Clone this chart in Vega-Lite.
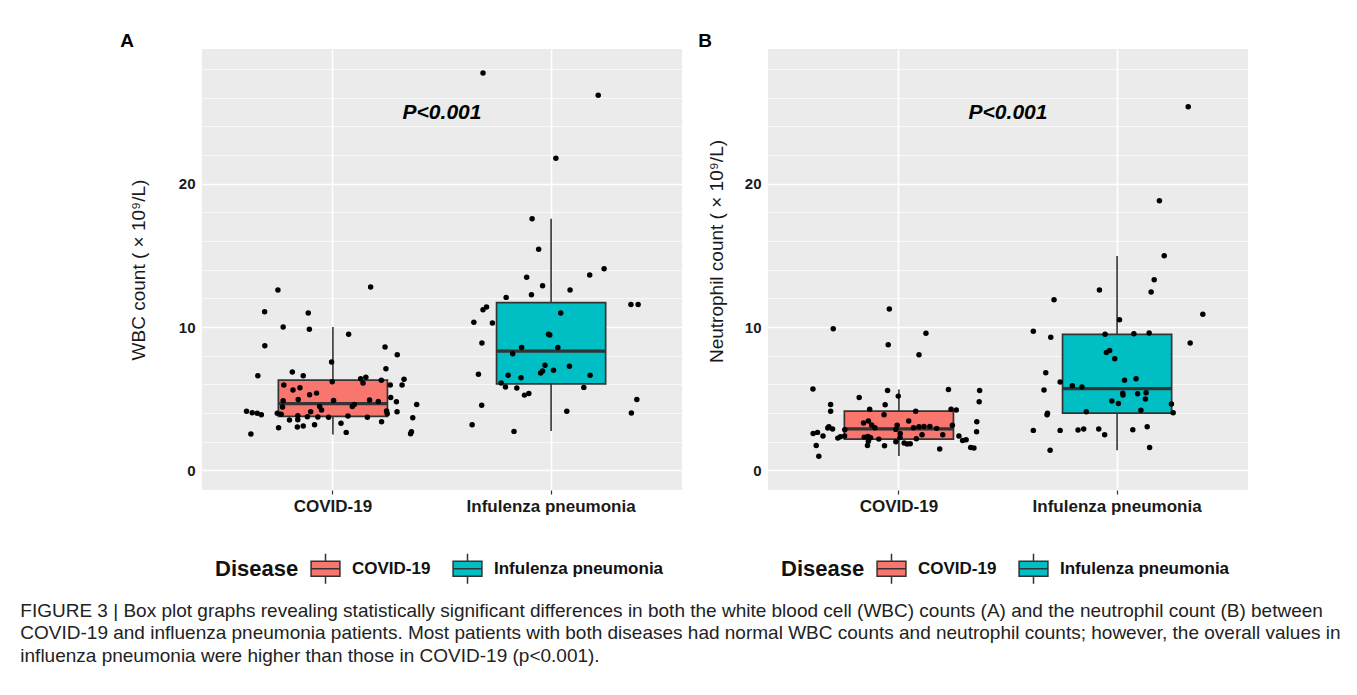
{
  "$schema": "https://vega.github.io/schema/vega-lite/v6.json",
  "background": "white",
  "padding": {"left": 20, "top": 32, "right": 0, "bottom": 0},
  "datasets": {
    "wbc_box": [
      {"Disease": "COVID-19", "lower": 2.51, "q1": 3.77, "median": 4.65, "q3": 6.30, "upper": 10.0},
      {"Disease": "Infulenza pneumonia", "lower": 2.74, "q1": 6.04, "median": 8.32, "q3": 11.70, "upper": 17.56}
    ],
    "neut_box": [
      {"Disease": "COVID-19", "lower": 1.00, "q1": 2.18, "median": 2.90, "q3": 4.14, "upper": 5.65},
      {"Disease": "Infulenza pneumonia", "lower": 1.40, "q1": 4.00, "median": 5.70, "q3": 9.49, "upper": 14.95}
    ],
    "wbc": [
      {"Disease": "COVID-19", "WBC": 12.58, "jitter": -0.252},
      {"Disease": "COVID-19", "WBC": 12.79, "jitter": 0.173},
      {"Disease": "COVID-19", "WBC": 11.07, "jitter": -0.313},
      {"Disease": "COVID-19", "WBC": 10.98, "jitter": -0.113},
      {"Disease": "COVID-19", "WBC": 10.00, "jitter": -0.228},
      {"Disease": "COVID-19", "WBC": 9.84, "jitter": -0.108},
      {"Disease": "COVID-19", "WBC": 9.49, "jitter": 0.072},
      {"Disease": "COVID-19", "WBC": 8.70, "jitter": -0.312},
      {"Disease": "COVID-19", "WBC": 8.60, "jitter": 0.239},
      {"Disease": "COVID-19", "WBC": 8.07, "jitter": 0.295},
      {"Disease": "COVID-19", "WBC": 7.56, "jitter": -0.006},
      {"Disease": "COVID-19", "WBC": 6.60, "jitter": -0.344},
      {"Disease": "COVID-19", "WBC": 7.09, "jitter": 0.243},
      {"Disease": "COVID-19", "WBC": 6.86, "jitter": -0.186},
      {"Disease": "COVID-19", "WBC": 6.60, "jitter": -0.136},
      {"Disease": "COVID-19", "WBC": 6.35, "jitter": 0.326},
      {"Disease": "COVID-19", "WBC": 5.95, "jitter": 0.317},
      {"Disease": "COVID-19", "WBC": 6.39, "jitter": 0.127},
      {"Disease": "COVID-19", "WBC": 6.49, "jitter": 0.151},
      {"Disease": "COVID-19", "WBC": 6.09, "jitter": 0.138},
      {"Disease": "COVID-19", "WBC": 6.28, "jitter": 0.222},
      {"Disease": "COVID-19", "WBC": 6.18, "jitter": -0.003},
      {"Disease": "COVID-19", "WBC": 5.95, "jitter": -0.225},
      {"Disease": "COVID-19", "WBC": 5.95, "jitter": 0.263},
      {"Disease": "COVID-19", "WBC": 5.60, "jitter": -0.183},
      {"Disease": "COVID-19", "WBC": 5.76, "jitter": -0.151},
      {"Disease": "COVID-19", "WBC": 5.28, "jitter": -0.107},
      {"Disease": "COVID-19", "WBC": 5.39, "jitter": -0.075},
      {"Disease": "COVID-19", "WBC": 5.09, "jitter": 0.265},
      {"Disease": "COVID-19", "WBC": 4.86, "jitter": -0.228},
      {"Disease": "COVID-19", "WBC": 4.95, "jitter": -0.159},
      {"Disease": "COVID-19", "WBC": 4.88, "jitter": 0.003},
      {"Disease": "COVID-19", "WBC": 4.91, "jitter": 0.168},
      {"Disease": "COVID-19", "WBC": 4.81, "jitter": 0.208},
      {"Disease": "COVID-19", "WBC": 4.79, "jitter": 0.291},
      {"Disease": "COVID-19", "WBC": 4.60, "jitter": 0.384},
      {"Disease": "COVID-19", "WBC": 4.60, "jitter": 0.098},
      {"Disease": "COVID-19", "WBC": 4.46, "jitter": 0.089},
      {"Disease": "COVID-19", "WBC": 4.42, "jitter": -0.231},
      {"Disease": "COVID-19", "WBC": 4.46, "jitter": -0.061},
      {"Disease": "COVID-19", "WBC": 4.21, "jitter": -0.052},
      {"Disease": "COVID-19", "WBC": 4.12, "jitter": -0.396},
      {"Disease": "COVID-19", "WBC": 4.02, "jitter": -0.370},
      {"Disease": "COVID-19", "WBC": 3.98, "jitter": -0.347},
      {"Disease": "COVID-19", "WBC": 3.88, "jitter": -0.328},
      {"Disease": "COVID-19", "WBC": 3.98, "jitter": -0.255},
      {"Disease": "COVID-19", "WBC": 3.91, "jitter": -0.237},
      {"Disease": "COVID-19", "WBC": 4.09, "jitter": -0.102},
      {"Disease": "COVID-19", "WBC": 3.74, "jitter": -0.117},
      {"Disease": "COVID-19", "WBC": 3.81, "jitter": -0.161},
      {"Disease": "COVID-19", "WBC": 3.51, "jitter": -0.199},
      {"Disease": "COVID-19", "WBC": 3.53, "jitter": -0.161},
      {"Disease": "COVID-19", "WBC": 3.72, "jitter": -0.069},
      {"Disease": "COVID-19", "WBC": 3.70, "jitter": -0.020},
      {"Disease": "COVID-19", "WBC": 3.79, "jitter": 0.069},
      {"Disease": "COVID-19", "WBC": 3.70, "jitter": 0.158},
      {"Disease": "COVID-19", "WBC": 4.14, "jitter": 0.246},
      {"Disease": "COVID-19", "WBC": 3.95, "jitter": 0.249},
      {"Disease": "COVID-19", "WBC": 4.09, "jitter": 0.294},
      {"Disease": "COVID-19", "WBC": 3.39, "jitter": 0.223},
      {"Disease": "COVID-19", "WBC": 3.67, "jitter": 0.366},
      {"Disease": "COVID-19", "WBC": 2.97, "jitter": -0.249},
      {"Disease": "COVID-19", "WBC": 3.02, "jitter": -0.163},
      {"Disease": "COVID-19", "WBC": 3.09, "jitter": -0.136},
      {"Disease": "COVID-19", "WBC": 3.18, "jitter": -0.084},
      {"Disease": "COVID-19", "WBC": 3.28, "jitter": 0.037},
      {"Disease": "COVID-19", "WBC": 2.65, "jitter": 0.061},
      {"Disease": "COVID-19", "WBC": 2.53, "jitter": -0.376},
      {"Disease": "COVID-19", "WBC": 2.69, "jitter": 0.360},
      {"Disease": "COVID-19", "WBC": 2.55, "jitter": 0.356},
      {"Disease": "Infulenza pneumonia", "WBC": 27.72, "jitter": -0.312},
      {"Disease": "Infulenza pneumonia", "WBC": 26.17, "jitter": 0.216},
      {"Disease": "Infulenza pneumonia", "WBC": 21.77, "jitter": 0.022},
      {"Disease": "Infulenza pneumonia", "WBC": 17.56, "jitter": -0.087},
      {"Disease": "Infulenza pneumonia", "WBC": 15.42, "jitter": -0.057},
      {"Disease": "Infulenza pneumonia", "WBC": 14.07, "jitter": 0.243},
      {"Disease": "Infulenza pneumonia", "WBC": 13.63, "jitter": 0.177},
      {"Disease": "Infulenza pneumonia", "WBC": 13.47, "jitter": -0.112},
      {"Disease": "Infulenza pneumonia", "WBC": 12.88, "jitter": -0.039},
      {"Disease": "Infulenza pneumonia", "WBC": 12.58, "jitter": 0.087},
      {"Disease": "Infulenza pneumonia", "WBC": 12.07, "jitter": -0.206},
      {"Disease": "Infulenza pneumonia", "WBC": 12.26, "jitter": -0.090},
      {"Disease": "Infulenza pneumonia", "WBC": 11.40, "jitter": -0.296},
      {"Disease": "Infulenza pneumonia", "WBC": 11.21, "jitter": -0.312},
      {"Disease": "Infulenza pneumonia", "WBC": 11.58, "jitter": 0.366},
      {"Disease": "Infulenza pneumonia", "WBC": 11.58, "jitter": 0.399},
      {"Disease": "Infulenza pneumonia", "WBC": 10.33, "jitter": -0.354},
      {"Disease": "Infulenza pneumonia", "WBC": 10.28, "jitter": -0.269},
      {"Disease": "Infulenza pneumonia", "WBC": 10.98, "jitter": 0.044},
      {"Disease": "Infulenza pneumonia", "WBC": 8.88, "jitter": -0.317},
      {"Disease": "Infulenza pneumonia", "WBC": 9.49, "jitter": -0.012},
      {"Disease": "Infulenza pneumonia", "WBC": 9.44, "jitter": -0.006},
      {"Disease": "Infulenza pneumonia", "WBC": 8.58, "jitter": -0.135},
      {"Disease": "Infulenza pneumonia", "WBC": 8.14, "jitter": -0.176},
      {"Disease": "Infulenza pneumonia", "WBC": 8.58, "jitter": 0.031},
      {"Disease": "Infulenza pneumonia", "WBC": 7.26, "jitter": 0.084},
      {"Disease": "Infulenza pneumonia", "WBC": 7.33, "jitter": -0.028},
      {"Disease": "Infulenza pneumonia", "WBC": 6.93, "jitter": -0.039},
      {"Disease": "Infulenza pneumonia", "WBC": 6.79, "jitter": -0.048},
      {"Disease": "Infulenza pneumonia", "WBC": 6.98, "jitter": 0.011},
      {"Disease": "Infulenza pneumonia", "WBC": 6.63, "jitter": -0.197},
      {"Disease": "Infulenza pneumonia", "WBC": 6.46, "jitter": -0.138},
      {"Disease": "Infulenza pneumonia", "WBC": 6.63, "jitter": 0.179},
      {"Disease": "Infulenza pneumonia", "WBC": 6.70, "jitter": -0.333},
      {"Disease": "Infulenza pneumonia", "WBC": 6.09, "jitter": -0.229},
      {"Disease": "Infulenza pneumonia", "WBC": 5.81, "jitter": -0.209},
      {"Disease": "Infulenza pneumonia", "WBC": 5.74, "jitter": -0.157},
      {"Disease": "Infulenza pneumonia", "WBC": 5.25, "jitter": -0.122},
      {"Disease": "Infulenza pneumonia", "WBC": 5.37, "jitter": -0.102},
      {"Disease": "Infulenza pneumonia", "WBC": 5.79, "jitter": 0.150},
      {"Disease": "Infulenza pneumonia", "WBC": 4.54, "jitter": -0.318},
      {"Disease": "Infulenza pneumonia", "WBC": 4.95, "jitter": 0.393},
      {"Disease": "Infulenza pneumonia", "WBC": 4.12, "jitter": 0.072},
      {"Disease": "Infulenza pneumonia", "WBC": 4.00, "jitter": 0.368},
      {"Disease": "Infulenza pneumonia", "WBC": 3.18, "jitter": -0.362},
      {"Disease": "Infulenza pneumonia", "WBC": 2.72, "jitter": -0.170}
    ],
    "neut": [
      {"Disease": "COVID-19", "Neutrophil": 11.26, "jitter": -0.044},
      {"Disease": "COVID-19", "Neutrophil": 9.88, "jitter": -0.301},
      {"Disease": "COVID-19", "Neutrophil": 9.56, "jitter": 0.124},
      {"Disease": "COVID-19", "Neutrophil": 8.77, "jitter": -0.049},
      {"Disease": "COVID-19", "Neutrophil": 8.07, "jitter": 0.092},
      {"Disease": "COVID-19", "Neutrophil": 5.67, "jitter": -0.394},
      {"Disease": "COVID-19", "Neutrophil": 5.58, "jitter": -0.052},
      {"Disease": "COVID-19", "Neutrophil": 5.65, "jitter": 0.227},
      {"Disease": "COVID-19", "Neutrophil": 5.58, "jitter": 0.370},
      {"Disease": "COVID-19", "Neutrophil": 5.18, "jitter": -0.003},
      {"Disease": "COVID-19", "Neutrophil": 5.09, "jitter": -0.182},
      {"Disease": "COVID-19", "Neutrophil": 4.79, "jitter": 0.368},
      {"Disease": "COVID-19", "Neutrophil": 4.60, "jitter": -0.313},
      {"Disease": "COVID-19", "Neutrophil": 4.12, "jitter": -0.313},
      {"Disease": "COVID-19", "Neutrophil": 4.58, "jitter": -0.063},
      {"Disease": "COVID-19", "Neutrophil": 4.26, "jitter": -0.134},
      {"Disease": "COVID-19", "Neutrophil": 4.12, "jitter": 0.077},
      {"Disease": "COVID-19", "Neutrophil": 4.26, "jitter": 0.239},
      {"Disease": "COVID-19", "Neutrophil": 4.21, "jitter": 0.263},
      {"Disease": "COVID-19", "Neutrophil": 3.88, "jitter": -0.068},
      {"Disease": "COVID-19", "Neutrophil": 3.44, "jitter": 0.045},
      {"Disease": "COVID-19", "Neutrophil": 3.39, "jitter": 0.357},
      {"Disease": "COVID-19", "Neutrophil": 3.30, "jitter": -0.162},
      {"Disease": "COVID-19", "Neutrophil": 3.44, "jitter": -0.140},
      {"Disease": "COVID-19", "Neutrophil": 3.16, "jitter": -0.125},
      {"Disease": "COVID-19", "Neutrophil": 2.97, "jitter": -0.110},
      {"Disease": "COVID-19", "Neutrophil": 3.14, "jitter": -0.008},
      {"Disease": "COVID-19", "Neutrophil": 2.86, "jitter": -0.014},
      {"Disease": "COVID-19", "Neutrophil": 2.97, "jitter": 0.067},
      {"Disease": "COVID-19", "Neutrophil": 3.04, "jitter": 0.092},
      {"Disease": "COVID-19", "Neutrophil": 3.07, "jitter": 0.115},
      {"Disease": "COVID-19", "Neutrophil": 3.07, "jitter": 0.142},
      {"Disease": "COVID-19", "Neutrophil": 2.93, "jitter": 0.173},
      {"Disease": "COVID-19", "Neutrophil": 3.14, "jitter": 0.245},
      {"Disease": "COVID-19", "Neutrophil": 2.69, "jitter": 0.356},
      {"Disease": "COVID-19", "Neutrophil": 3.04, "jitter": -0.321},
      {"Disease": "COVID-19", "Neutrophil": 2.88, "jitter": -0.304},
      {"Disease": "COVID-19", "Neutrophil": 2.95, "jitter": -0.326},
      {"Disease": "COVID-19", "Neutrophil": 2.58, "jitter": -0.393},
      {"Disease": "COVID-19", "Neutrophil": 2.65, "jitter": -0.373},
      {"Disease": "COVID-19", "Neutrophil": 2.39, "jitter": -0.348},
      {"Disease": "COVID-19", "Neutrophil": 2.83, "jitter": -0.248},
      {"Disease": "COVID-19", "Neutrophil": 2.25, "jitter": -0.280},
      {"Disease": "COVID-19", "Neutrophil": 2.35, "jitter": -0.268},
      {"Disease": "COVID-19", "Neutrophil": 2.39, "jitter": -0.249},
      {"Disease": "COVID-19", "Neutrophil": 2.32, "jitter": -0.159},
      {"Disease": "COVID-19", "Neutrophil": 2.37, "jitter": -0.142},
      {"Disease": "COVID-19", "Neutrophil": 2.28, "jitter": -0.130},
      {"Disease": "COVID-19", "Neutrophil": 2.18, "jitter": -0.092},
      {"Disease": "COVID-19", "Neutrophil": 1.74, "jitter": -0.144},
      {"Disease": "COVID-19", "Neutrophil": 2.04, "jitter": -0.140},
      {"Disease": "COVID-19", "Neutrophil": 1.72, "jitter": -0.066},
      {"Disease": "COVID-19", "Neutrophil": 2.58, "jitter": 0.006},
      {"Disease": "COVID-19", "Neutrophil": 2.30, "jitter": 0.005},
      {"Disease": "COVID-19", "Neutrophil": 2.00, "jitter": -0.014},
      {"Disease": "COVID-19", "Neutrophil": 1.91, "jitter": 0.024},
      {"Disease": "COVID-19", "Neutrophil": 1.84, "jitter": 0.038},
      {"Disease": "COVID-19", "Neutrophil": 1.86, "jitter": 0.052},
      {"Disease": "COVID-19", "Neutrophil": 2.21, "jitter": 0.080},
      {"Disease": "COVID-19", "Neutrophil": 2.48, "jitter": 0.106},
      {"Disease": "COVID-19", "Neutrophil": 2.48, "jitter": 0.201},
      {"Disease": "COVID-19", "Neutrophil": 1.49, "jitter": 0.187},
      {"Disease": "COVID-19", "Neutrophil": 2.39, "jitter": 0.275},
      {"Disease": "COVID-19", "Neutrophil": 2.09, "jitter": 0.292},
      {"Disease": "COVID-19", "Neutrophil": 2.14, "jitter": 0.308},
      {"Disease": "COVID-19", "Neutrophil": 1.60, "jitter": 0.329},
      {"Disease": "COVID-19", "Neutrophil": 1.56, "jitter": 0.344},
      {"Disease": "COVID-19", "Neutrophil": 1.74, "jitter": -0.379},
      {"Disease": "COVID-19", "Neutrophil": 0.98, "jitter": -0.367},
      {"Disease": "Infulenza pneumonia", "Neutrophil": 25.37, "jitter": 0.326},
      {"Disease": "Infulenza pneumonia", "Neutrophil": 18.81, "jitter": 0.194},
      {"Disease": "Infulenza pneumonia", "Neutrophil": 14.98, "jitter": 0.216},
      {"Disease": "Infulenza pneumonia", "Neutrophil": 13.30, "jitter": 0.170},
      {"Disease": "Infulenza pneumonia", "Neutrophil": 12.58, "jitter": -0.081},
      {"Disease": "Infulenza pneumonia", "Neutrophil": 12.44, "jitter": 0.156},
      {"Disease": "Infulenza pneumonia", "Neutrophil": 11.91, "jitter": -0.289},
      {"Disease": "Infulenza pneumonia", "Neutrophil": 10.89, "jitter": 0.393},
      {"Disease": "Infulenza pneumonia", "Neutrophil": 10.51, "jitter": 0.011},
      {"Disease": "Infulenza pneumonia", "Neutrophil": 9.70, "jitter": -0.384},
      {"Disease": "Infulenza pneumonia", "Neutrophil": 9.28, "jitter": -0.304},
      {"Disease": "Infulenza pneumonia", "Neutrophil": 9.49, "jitter": -0.055},
      {"Disease": "Infulenza pneumonia", "Neutrophil": 9.53, "jitter": 0.077},
      {"Disease": "Infulenza pneumonia", "Neutrophil": 9.58, "jitter": 0.147},
      {"Disease": "Infulenza pneumonia", "Neutrophil": 8.88, "jitter": 0.335},
      {"Disease": "Infulenza pneumonia", "Neutrophil": 8.23, "jitter": -0.049},
      {"Disease": "Infulenza pneumonia", "Neutrophil": 8.37, "jitter": -0.034},
      {"Disease": "Infulenza pneumonia", "Neutrophil": 7.79, "jitter": -0.011},
      {"Disease": "Infulenza pneumonia", "Neutrophil": 6.81, "jitter": -0.327},
      {"Disease": "Infulenza pneumonia", "Neutrophil": 6.16, "jitter": -0.261},
      {"Disease": "Infulenza pneumonia", "Neutrophil": 5.91, "jitter": -0.205},
      {"Disease": "Infulenza pneumonia", "Neutrophil": 5.81, "jitter": -0.161},
      {"Disease": "Infulenza pneumonia", "Neutrophil": 5.60, "jitter": -0.335},
      {"Disease": "Infulenza pneumonia", "Neutrophil": 6.28, "jitter": 0.034},
      {"Disease": "Infulenza pneumonia", "Neutrophil": 6.39, "jitter": 0.087},
      {"Disease": "Infulenza pneumonia", "Neutrophil": 5.39, "jitter": 0.026},
      {"Disease": "Infulenza pneumonia", "Neutrophil": 5.25, "jitter": 0.027},
      {"Disease": "Infulenza pneumonia", "Neutrophil": 5.35, "jitter": 0.094},
      {"Disease": "Infulenza pneumonia", "Neutrophil": 5.42, "jitter": 0.133},
      {"Disease": "Infulenza pneumonia", "Neutrophil": 4.98, "jitter": 0.130},
      {"Disease": "Infulenza pneumonia", "Neutrophil": 4.84, "jitter": -0.024},
      {"Disease": "Infulenza pneumonia", "Neutrophil": 4.67, "jitter": 0.006},
      {"Disease": "Infulenza pneumonia", "Neutrophil": 4.19, "jitter": 0.109},
      {"Disease": "Infulenza pneumonia", "Neutrophil": 4.63, "jitter": 0.249},
      {"Disease": "Infulenza pneumonia", "Neutrophil": 4.02, "jitter": 0.257},
      {"Disease": "Infulenza pneumonia", "Neutrophil": 4.09, "jitter": -0.141},
      {"Disease": "Infulenza pneumonia", "Neutrophil": 3.98, "jitter": -0.319},
      {"Disease": "Infulenza pneumonia", "Neutrophil": 3.88, "jitter": -0.321},
      {"Disease": "Infulenza pneumonia", "Neutrophil": 2.79, "jitter": -0.384},
      {"Disease": "Infulenza pneumonia", "Neutrophil": 2.79, "jitter": -0.261},
      {"Disease": "Infulenza pneumonia", "Neutrophil": 2.81, "jitter": -0.179},
      {"Disease": "Infulenza pneumonia", "Neutrophil": 2.88, "jitter": -0.153},
      {"Disease": "Infulenza pneumonia", "Neutrophil": 2.88, "jitter": -0.084},
      {"Disease": "Infulenza pneumonia", "Neutrophil": 2.48, "jitter": -0.057},
      {"Disease": "Infulenza pneumonia", "Neutrophil": 2.83, "jitter": 0.072},
      {"Disease": "Infulenza pneumonia", "Neutrophil": 3.04, "jitter": 0.138},
      {"Disease": "Infulenza pneumonia", "Neutrophil": 1.40, "jitter": -0.307},
      {"Disease": "Infulenza pneumonia", "Neutrophil": 1.60, "jitter": 0.149}
    ]
  },
  "title": {
    "text": [
      "FIGURE 3 | Box plot graphs revealing statistically significant differences in both the white blood cell (WBC) counts (A) and the neutrophil count (B) between",
      "COVID-19 and influenza pneumonia patients. Most patients with both diseases had normal WBC counts and neutrophil counts; however, the overall values in",
      "influenza pneumonia were higher than those in COVID-19 (p<0.001)."
    ],
    "orient": "bottom",
    "anchor": "start",
    "frame": "bounds",
    "font": "Liberation Sans",
    "fontSize": 19,
    "fontWeight": "normal",
    "color": "#222222",
    "lineHeight": 22.5,
    "offset": 14.5,
    "dx": -100
  },
  "spacing": 16,
  "resolve": {
    "scale": {"color": "independent", "y": "independent", "x": "independent", "xOffset": "independent"},
    "legend": {"color": "independent"}
  },
  "hconcat": [
    {
      "width": 480,
      "height": 441,
      "title": {"text": "A", "anchor": "start", "frame": "bounds", "fontSize": 19, "fontWeight": "bold", "color": "black", "offset": -2, "dx": -9},
      "resolve": {"scale": {"xOffset": "independent"}},
      "encoding": {
        "x": {
          "field": "Disease", "type": "nominal",
          "scale": {"domain": ["COVID-19", "Infulenza pneumonia"], "paddingInner": 0, "paddingOuter": 0.1},
          "axis": {"title": null}
        }
      },
      "layer": [
        {
          "data": {"name": "wbc_box"},
          "mark": {"type": "rule", "color": "#333333", "strokeWidth": 1.6},
          "encoding": {
            "y": {"field": "lower", "type": "quantitative", "scale": {"domain": [-1.37, 29.4], "nice": false, "zero": false},
                  "axis": {"title": "WBC count ( × 10⁹/L)", "titlePadding": 30}},
            "y2": {"field": "upper"}
          }
        },
        {
          "data": {"name": "wbc_box"},
          "mark": {"type": "bar", "width": {"band": 0.5}, "stroke": "#333333", "strokeWidth": 1.7},
          "encoding": {
            "y": {"field": "q1", "type": "quantitative"},
            "y2": {"field": "q3"},
            "color": {
              "field": "Disease", "type": "nominal", "title": "Disease",
              "scale": {"domain": ["COVID-19", "Infulenza pneumonia"], "range": ["#F8766D", "#00BFC4"]},
              "legend": {"orient": "none", "legendX": 13, "legendY": 503}
            }
          }
        },
        {
          "data": {"name": "wbc_box"},
          "mark": {"type": "bar", "width": {"band": 0.5}, "stroke": "#333333", "strokeWidth": 3.3, "fill": "#333333"},
          "encoding": {
            "y": {"field": "median", "type": "quantitative"},
            "y2": {"field": "median"}
          }
        },
        {
          "data": {"name": "wbc"},
          "mark": {"type": "circle", "color": "black", "size": 30, "opacity": 1},
          "encoding": {
            "y": {"field": "WBC", "type": "quantitative"},
            "xOffset": {"field": "jitter", "type": "quantitative", "scale": {"domain": [-0.5, 0.5]}}
          }
        },
        {
          "data": {"values": [{"label": "P<0.001"}]},
          "mark": {"type": "text", "fontSize": 21, "fontStyle": "italic", "fontWeight": "bold", "color": "black", "baseline": "middle"},
          "encoding": {
            "text": {"field": "label"},
            "x": {"datum": "COVID-19"},
            "xOffset": {"datum": 0.5, "type": "quantitative", "scale": {"domain": [-0.5, 0.5]}},
            "y": {"datum": 24.9, "type": "quantitative"}
          }
        }
      ]
    },
    {
      "width": 480,
      "height": 441,
      "title": {"text": "B", "anchor": "start", "frame": "bounds", "fontSize": 19, "fontWeight": "bold", "color": "black", "offset": -2, "dx": -9},
      "resolve": {"scale": {"xOffset": "independent"}},
      "encoding": {
        "x": {
          "field": "Disease", "type": "nominal",
          "scale": {"domain": ["COVID-19", "Infulenza pneumonia"], "paddingInner": 0, "paddingOuter": 0.1},
          "axis": {"title": null}
        }
      },
      "layer": [
        {
          "data": {"name": "neut_box"},
          "mark": {"type": "rule", "color": "#333333", "strokeWidth": 1.6},
          "encoding": {
            "y": {"field": "lower", "type": "quantitative", "scale": {"domain": [-1.37, 29.4], "nice": false, "zero": false},
                  "axis": {"title": "Neutrophil count ( × 10⁹/L)", "titlePadding": 18, "titleY": 202}},
            "y2": {"field": "upper"}
          }
        },
        {
          "data": {"name": "neut_box"},
          "mark": {"type": "bar", "width": {"band": 0.5}, "stroke": "#333333", "strokeWidth": 1.7},
          "encoding": {
            "y": {"field": "q1", "type": "quantitative"},
            "y2": {"field": "q3"},
            "color": {
              "field": "Disease", "type": "nominal", "title": "Disease",
              "scale": {"domain": ["COVID-19", "Infulenza pneumonia"], "range": ["#F8766D", "#00BFC4"]},
              "legend": {"orient": "none", "legendX": 13, "legendY": 503}
            }
          }
        },
        {
          "data": {"name": "neut_box"},
          "mark": {"type": "bar", "width": {"band": 0.5}, "stroke": "#333333", "strokeWidth": 3.3, "fill": "#333333"},
          "encoding": {
            "y": {"field": "median", "type": "quantitative"},
            "y2": {"field": "median"}
          }
        },
        {
          "data": {"name": "neut"},
          "mark": {"type": "circle", "color": "black", "size": 30, "opacity": 1},
          "encoding": {
            "y": {"field": "Neutrophil", "type": "quantitative"},
            "xOffset": {"field": "jitter", "type": "quantitative", "scale": {"domain": [-0.5, 0.5]}}
          }
        },
        {
          "data": {"values": [{"label": "P<0.001"}]},
          "mark": {"type": "text", "fontSize": 21, "fontStyle": "italic", "fontWeight": "bold", "color": "black", "baseline": "middle"},
          "encoding": {
            "text": {"field": "label"},
            "x": {"datum": "COVID-19"},
            "xOffset": {"datum": 0.5, "type": "quantitative", "scale": {"domain": [-0.5, 0.5]}},
            "y": {"datum": 24.9, "type": "quantitative"}
          }
        }
      ]
    }
  ],
  "config": {
    "font": "Liberation Sans",
    "view": {"fill": "#EBEBEB", "stroke": null},
    "axisX": {
      "grid": true, "gridColor": "white", "gridWidth": 1.6, "bandPosition": 0.5,
      "domain": false, "ticks": true, "tickColor": "#333333", "tickSize": 4, "tickWidth": 1.2,
      "labelAngle": 0, "labelFontSize": 17, "labelFontWeight": "bold", "labelColor": "#1a1a1a", "labelPadding": 4
    },
    "axisY": {
      "values": [0, 5, 10, 15, 20, 25],
      "labelExpr": "datum.value % 10 === 0 ? datum.label : ''",
      "grid": true, "gridColor": "white",
      "gridWidth": {"condition": {"test": "datum.value % 10 === 0", "value": 1.6}, "value": 0.7},
      "tickOpacity": {"condition": {"test": "datum.value % 10 === 0", "value": 1}, "value": 0},
      "domain": false, "tickColor": "#333333", "tickSize": 4, "tickWidth": 1.2,
      "labelFontSize": 15, "labelFontWeight": "bold", "labelColor": "#1a1a1a", "labelPadding": 3,
      "titleFontSize": 19, "titleFontWeight": "normal", "titleColor": "#1a1a1a"
    },
    "legend": {
      "direction": "horizontal",
      "titleOrient": "left",
      "titleFontSize": 22, "titleFontWeight": "bold", "titleColor": "#111111", "titlePadding": 10,
      "labelFontSize": 17, "labelFontWeight": "bold", "labelColor": "#111111", "labelOffset": 10,
      "labelLimit": 400,
      "columnPadding": 19,
      "symbolType": "M-0.93,-0.48H0.93V0.48H-0.93Z M-0.93,0H0.93 M0,-0.48V-0.97 M0,0.48V0.97",
      "symbolSize": 961,
      "symbolStrokeColor": "#333333",
      "symbolStrokeWidth": 1.5,
      "symbolOpacity": 1
    }
  }
}
